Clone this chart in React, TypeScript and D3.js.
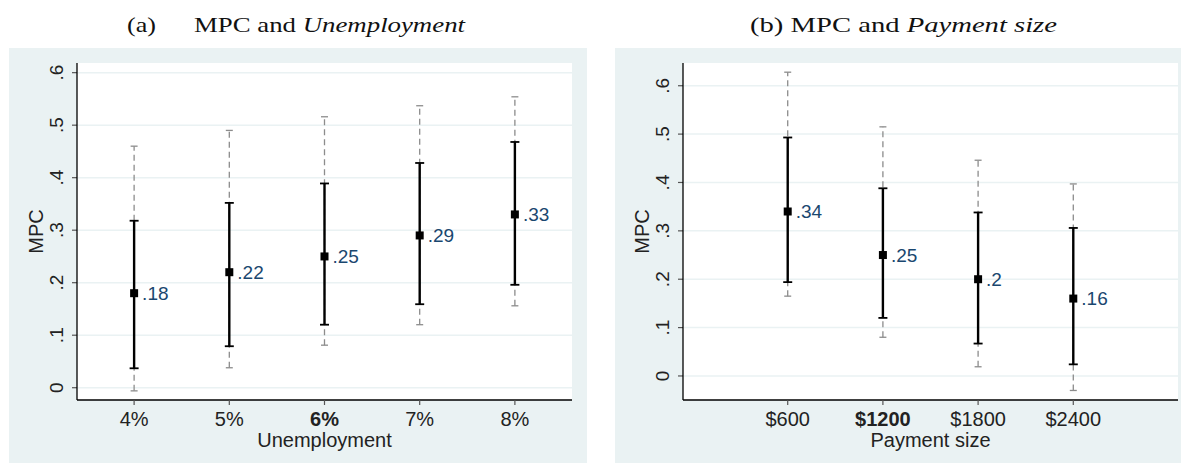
import React from "react";
import * as d3 from "d3";

// panel (a): unemployment scenarios
const unempCats = ["4%", "5%", "6%", "7%", "8%"];
const unempBold = "6%";
const unempEst = [0.18, 0.22, 0.25, 0.29, 0.33];
const unempLabels = [".18", ".22", ".25", ".29", ".33"];
const unempLo90 = [0.037, 0.079, 0.12, 0.159, 0.196];
const unempHi90 = [0.318, 0.352, 0.389, 0.428, 0.468];
const unempLo95 = [-0.006, 0.038, 0.081, 0.12, 0.156];
const unempHi95 = [0.46, 0.49, 0.516, 0.537, 0.554];

// panel (b): payment size scenarios
const payCats = ["$600", "$1200", "$1800", "$2400"];
const payBold = "$1200";
const payEst = [0.34, 0.25, 0.2, 0.16];
const payLabels = [".34", ".25", ".2", ".16"];
const payLo90 = [0.194, 0.12, 0.067, 0.024];
const payHi90 = [0.493, 0.388, 0.338, 0.306];
const payLo95 = [0.165, 0.08, 0.019, -0.03];
const payHi95 = [0.628, 0.515, 0.446, 0.397];

const yTicks = [0, 0.1, 0.2, 0.3, 0.4, 0.5, 0.6];
const yTickLabels = ["0", ".1", ".2", ".3", ".4", ".5", ".6"];

const BG = "#eaf2f3";
const NAVY = "#1a476f";
const SANS = "'Liberation Sans', Arial, sans-serif";
const SERIF = "'Liberation Serif', 'Times New Roman', serif";

type PanelProps = {
  left: number;
  cats: string[];
  bold: string;
  xDomain: [number, number];
  xStart: number;
  yDomain: [number, number];
  est: number[];
  labels: string[];
  lo90: number[];
  hi90: number[];
  lo95: number[];
  hi95: number[];
  xTitle: string;
};

function Panel(p: PanelProps) {
  const plotL = p.left + 68;
  const plotR = plotL + 495;
  const plotT = 63;
  const plotB = 400;

  const x = d3.scaleLinear().domain(p.xDomain).range([plotL, plotR]);
  const y = d3.scaleLinear().domain(p.yDomain).range([plotB, plotT]);
  const xs = p.cats.map((_, i) => x(p.xStart + i));

  return (
    <g>
      <rect x={p.left} y={48} width={578} height={415} fill={BG} />
      <rect x={plotL} y={plotT} width={plotR - plotL} height={plotB - plotT} fill="#fff" />
      {yTicks.map((t, i) => (
        <g key={t}>
          <line x1={plotL} x2={plotR} y1={y(t)} y2={y(t)} stroke={BG} strokeWidth={1.5} />
          <line x1={plotL - 5} x2={plotL} y1={y(t)} y2={y(t)} stroke="#555" strokeWidth={1.2} />
          <text
            transform={`translate(${plotL - 14},${y(t)}) rotate(-90)`}
            textAnchor="middle"
            fontFamily={SANS}
            fontSize={19}
            fill="#222"
          >
            {yTickLabels[i]}
          </text>
        </g>
      ))}
      <line x1={plotL} x2={plotL} y1={plotT} y2={plotB} stroke="#000" strokeWidth={1.3} />
      <line x1={plotL} x2={plotR} y1={plotB} y2={plotB} stroke="#000" strokeWidth={1.3} />
      {p.cats.map((c, i) => (
        <g key={c}>
          <line x1={xs[i]} x2={xs[i]} y1={plotB} y2={plotB + 5} stroke="#555" strokeWidth={1.2} />
          <text
            x={xs[i]}
            y={426}
            textAnchor="middle"
            fontFamily={SANS}
            fontSize={20}
            fontWeight={c === p.bold ? "bold" : "normal"}
            fill="#222"
          >
            {c}
          </text>
        </g>
      ))}
      <text
        x={(plotL + plotR) / 2}
        y={447}
        textAnchor="middle"
        fontFamily={SANS}
        fontSize={20}
        fill="#222"
      >
        {p.xTitle}
      </text>
      <text
        transform={`translate(${plotL - 34},${(plotT + plotB) / 2}) rotate(-90)`}
        textAnchor="middle"
        fontFamily={SANS}
        fontSize={20}
        fill="#222"
      >
        MPC
      </text>
      {p.cats.map((c, i) => (
        <g key={"ci" + c}>
          <line
            x1={xs[i]}
            x2={xs[i]}
            y1={y(p.lo95[i])}
            y2={y(p.hi95[i])}
            stroke="#8c8c8c"
            strokeWidth={1.3}
            strokeDasharray="6,4"
          />
          {[p.lo95[i], p.hi95[i]].map((v, k) => (
            <line key={k} x1={xs[i] - 3.5} x2={xs[i] + 3.5} y1={y(v)} y2={y(v)} stroke="#8c8c8c" strokeWidth={1.3} />
          ))}
          <line x1={xs[i]} x2={xs[i]} y1={y(p.lo90[i])} y2={y(p.hi90[i])} stroke="#000" strokeWidth={2.4} />
          {[p.lo90[i], p.hi90[i]].map((v, k) => (
            <line key={k} x1={xs[i] - 4.5} x2={xs[i] + 4.5} y1={y(v)} y2={y(v)} stroke="#000" strokeWidth={1.8} />
          ))}
          <rect x={xs[i] - 4} y={y(p.est[i]) - 4} width={8} height={8} fill="#000" />
          <text
            x={xs[i] + 8}
            y={y(p.est[i])}
            dy="0.36em"
            fontFamily={SANS}
            fontSize={19}
            fill={NAVY}
          >
            {p.labels[i]}
          </text>
        </g>
      ))}
    </g>
  );
}

export default function App() {
  return (
    <svg
      width={1181}
      height={463}
      style={{ position: "absolute", left: 0, top: 0, background: "#fff" }}
    >
      <text x={127} y={31.5} fontFamily={SERIF} fontSize={21} fill="#111" textLength={29} lengthAdjust="spacingAndGlyphs">
        (a)
      </text>
      <text x={194} y={31.5} fontFamily={SERIF} fontSize={21} fill="#111" textLength={271} lengthAdjust="spacingAndGlyphs">
        MPC and <tspan fontStyle="italic">Unemployment</tspan>
      </text>
      <text x={750} y={31.5} fontFamily={SERIF} fontSize={21} fill="#111" textLength={307} lengthAdjust="spacingAndGlyphs">
        (b) MPC and <tspan fontStyle="italic">Payment size</tspan>
      </text>
      <Panel
        left={9}
        cats={unempCats}
        bold={unempBold}
        xDomain={[3.4, 8.6]}
        xStart={4}
        yDomain={[-0.0234, 0.6184]}
        est={unempEst}
        labels={unempLabels}
        lo90={unempLo90}
        hi90={unempHi90}
        lo95={unempLo95}
        hi95={unempHi95}
        xTitle="Unemployment"
      />
      <Panel
        left={615}
        cats={payCats}
        bold={payBold}
        xDomain={[-0.1, 5.1]}
        xStart={1}
        yDomain={[-0.0497, 0.647]}
        est={payEst}
        labels={payLabels}
        lo90={payLo90}
        hi90={payHi90}
        lo95={payLo95}
        hi95={payHi95}
        xTitle="Payment size"
      />
    </svg>
  );
}
